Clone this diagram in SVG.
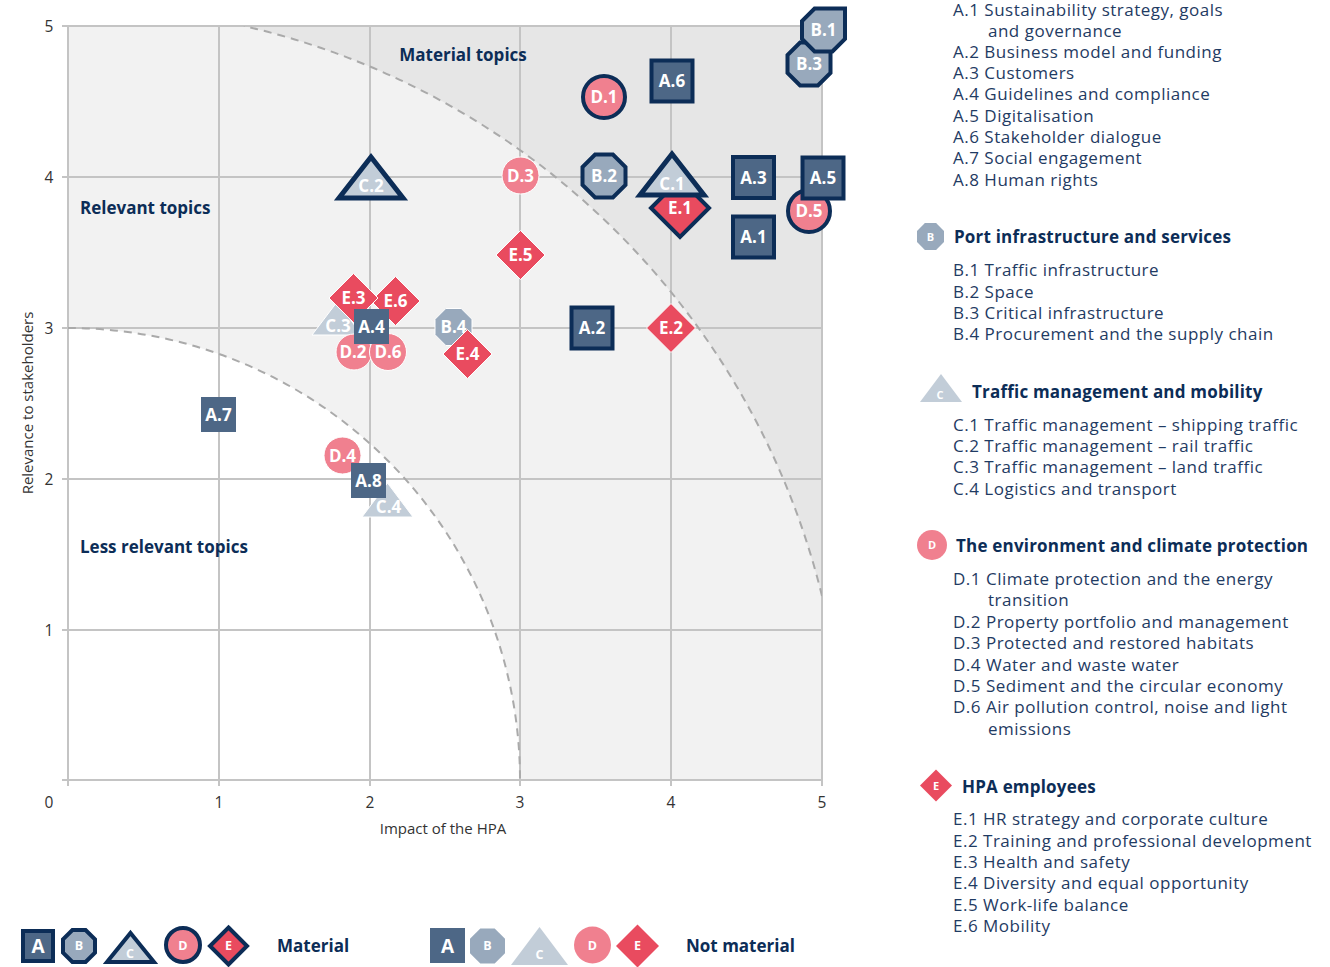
<svg xmlns="http://www.w3.org/2000/svg" width="1330" height="967" viewBox="0 0 1330 967">
<style>
.grid{stroke:#c4c4c4;stroke-width:2;fill:none}
.arc{stroke:#aaaaaa;stroke-width:2;stroke-dasharray:8 6;fill:none}
.tick{font-family:"Open Sans","Noto Sans",sans-serif;font-size:15.5px;fill:#333;text-anchor:middle}
.axis{font-family:"Open Sans","Noto Sans",sans-serif;font-size:15px;fill:#333;text-anchor:middle}
.zone{font-family:"Open Sans","Noto Sans",sans-serif;font-size:17px;font-weight:bold;fill:#0c2d57}
.A{fill:#4d6786}.B{fill:#98a9bc}.C{fill:#c2cdd8}.D{fill:#f0808f}.E{fill:#e94b5f}
.mat{stroke:#0c2d57;stroke-width:4;stroke-linejoin:miter}
.nm{stroke:#ffffff;stroke-width:1}
.lbl{font-family:"Open Sans","Noto Sans",sans-serif;font-size:17px;font-weight:bold;fill:#ffffff;text-anchor:middle}
.lg{font-family:"Open Sans","Noto Sans",sans-serif;font-size:12.5px;font-weight:bold;fill:#ffffff;text-anchor:middle}
.head{font-family:"Open Sans","Noto Sans",sans-serif;font-size:17px;font-weight:bold;fill:#0c2d57;letter-spacing:0.2px}
.item{font-family:"Open Sans","Noto Sans",sans-serif;font-size:17px;fill:#1f3b63;letter-spacing:0.5px}
</style>
<defs>
<clipPath id="plot"><rect x="68" y="26" width="754" height="754"/></clipPath>
</defs>

<g id="background">
<rect x="68" y="26" width="754" height="754" fill="#f2f2f2"/>
<path d="M 244,26 L 822,26 L 822,596 A 773 773 0 0 0 244,26 Z" fill="#e6e6e6" clip-path="url(#plot)"/>
<path d="M 68,780 L 68,328 A 452 452 0 0 1 520,780 Z" fill="#ffffff"/>
</g>

<g id="grid">
<line class="grid" x1="68" y1="26" x2="68" y2="786"/>
<line class="grid" x1="219" y1="26" x2="219" y2="786"/>
<line class="grid" x1="370" y1="26" x2="370" y2="786"/>
<line class="grid" x1="520" y1="26" x2="520" y2="786"/>
<line class="grid" x1="671" y1="26" x2="671" y2="786"/>
<line class="grid" x1="822" y1="26" x2="822" y2="786"/>
<line class="grid" x1="62" y1="26" x2="822" y2="26"/>
<line class="grid" x1="62" y1="177" x2="822" y2="177"/>
<line class="grid" x1="62" y1="328" x2="822" y2="328"/>
<line class="grid" x1="62" y1="479" x2="822" y2="479"/>
<line class="grid" x1="62" y1="630" x2="822" y2="630"/>
<line class="grid" x1="62" y1="780" x2="822" y2="780"/>
</g>

<g id="arcs" clip-path="url(#plot)">
<path class="arc" d="M 68,328 A 452 452 0 0 1 520,780"/>
<path class="arc" d="M 822,596 A 773 773 0 0 0 244,26"/>
</g>

<g id="axes">
<text class="tick" x="49" y="32">5</text>
<text class="tick" x="49" y="183">4</text>
<text class="tick" x="49" y="334">3</text>
<text class="tick" x="49" y="485">2</text>
<text class="tick" x="49" y="636">1</text>
<text class="tick" x="49" y="808">0</text>
<text class="tick" x="219" y="808">1</text>
<text class="tick" x="370" y="808">2</text>
<text class="tick" x="520" y="808">3</text>
<text class="tick" x="671" y="808">4</text>
<text class="tick" x="822" y="808">5</text>
<text class="axis" x="443" y="834">Impact of the HPA</text>
<text class="axis" transform="translate(33,403) rotate(-90)">Relevance to stakeholders</text>
</g>

<g id="zones">
<text class="zone" x="463" y="61" text-anchor="middle">Material topics</text>
<text class="zone" x="80" y="214">Relevant topics</text>
<text class="zone" x="80" y="553">Less relevant topics</text>
</g>

<g id="m-B3"><polygon class="B mat" points="830.5,42.5 830.5,72.9 817.9,85.5 800.1,85.5 787.5,72.9 787.5,55.1 800.1,42.5 817.9,42.5"/><text class="lbl" x="809" y="70">B.3</text></g>
<g id="m-B1"><polygon class="B mat" points="845,8.5 845,38.9 832.4,51.5 814.6,51.5 802,38.9 802,21.1 814.6,8.5 832.4,8.5"/><text class="lbl" x="823.5" y="36">B.1</text></g>
<g id="m-D1"><circle class="D mat" cx="604" cy="97" r="21"/><text class="lbl" x="604" y="103">D.1</text></g>
<g id="m-A6"><rect class="A mat" x="651.5" y="60.5" width="41" height="41"/><text class="lbl" x="672" y="87">A.6</text></g>
<g id="m-B2"><polygon class="B mat" points="625.5,167.1 625.5,184.9 612.9,197.5 595.1,197.5 582.5,184.9 582.5,167.1 595.1,154.5 612.9,154.5"/><text class="lbl" x="604" y="182">B.2</text></g>
<g id="m-D3"><circle class="D nm" cx="520.5" cy="175.5" r="18.5"/><text class="lbl" x="520.5" y="181.5">D.3</text></g>
<g id="m-C2"><polygon class="C mat" style="stroke-width:5" points="371,157 403,198 339,198"/><text class="lbl" x="371" y="192">C.2</text></g>
<g id="m-E1"><polygon class="E mat" points="680,179 709,208 680,237 651,208"/><text class="lbl" x="680" y="214">E.1</text></g>
<g id="m-C1"><polygon class="C mat" style="stroke-width:5" points="672,154 704,195 640,195"/><text class="lbl" x="672" y="190">C.1</text></g>
<g id="m-A3"><rect class="A mat" x="733" y="157" width="41" height="41"/><text class="lbl" x="753.5" y="183.5">A.3</text></g>
<g id="m-D5"><circle class="D mat" cx="809" cy="211" r="21"/><text class="lbl" x="809" y="217">D.5</text></g>
<g id="m-A5"><rect class="A mat" x="802.5" y="157.5" width="41" height="41"/><text class="lbl" x="823" y="184">A.5</text></g>
<g id="m-A1"><rect class="A mat" x="733" y="216.5" width="41" height="41"/><text class="lbl" x="753.5" y="243">A.1</text></g>
<g id="m-E5"><polygon class="E nm" points="520.5,230.5 545,255 520.5,279.5 496,255"/><text class="lbl" x="520.5" y="261">E.5</text></g>
<g id="m-A2"><rect class="A mat" x="571.5" y="307.5" width="41" height="41"/><text class="lbl" x="592" y="334">A.2</text></g>
<g id="m-E2"><polygon class="E nm" points="671,303.5 695.5,328 671,352.5 646.5,328"/><text class="lbl" x="671" y="334">E.2</text></g>
<g id="m-C3"><polygon class="C nm" points="337,302 362,335 312,335"/><text class="lbl" x="338" y="332">C.3</text></g>
<g id="m-E6"><polygon class="E nm" points="395.5,276.5 420,301 395.5,325.5 371,301"/><text class="lbl" x="395.5" y="307">E.6</text></g>
<g id="m-E3"><polygon class="E nm" points="353.5,273.5 378,298 353.5,322.5 329,298"/><text class="lbl" x="353.5" y="304">E.3</text></g>
<g id="m-D2"><circle class="D nm" cx="354" cy="352" r="18"/><text class="lbl" x="353" y="358">D.2</text></g>
<g id="m-D6"><circle class="D nm" cx="388" cy="352" r="18.5"/><text class="lbl" x="388" y="358">D.6</text></g>
<g id="m-A4"><rect class="A" x="354" y="309" width="35" height="35"/><text class="lbl" x="371.5" y="332.5">A.4</text></g>
<g id="m-B4"><polygon class="B nm" points="472,319.3 472,334.7 461.2,345.5 445.8,345.5 435,334.7 435,319.3 445.8,308.5 461.2,308.5"/><text class="lbl" x="453.5" y="333">B.4</text></g>
<g id="m-E4"><polygon class="E nm" points="467.5,329.5 492,354 467.5,378.5 443,354"/><text class="lbl" x="467.5" y="360">E.4</text></g>
<g id="m-A7"><rect class="A" x="201" y="397" width="35" height="35"/><text class="lbl" x="218.5" y="420.5">A.7</text></g>
<g id="m-D4"><circle class="D nm" cx="342.5" cy="455.5" r="18.5"/><text class="lbl" x="342.5" y="461.5">D.4</text></g>
<g id="m-C4"><polygon class="C nm" points="387.5,483 413,517 362,517"/><text class="lbl" x="388.5" y="513">C.4</text></g>
<g id="m-A8"><rect class="A" x="351" y="463" width="35" height="35"/><text class="lbl" x="368.5" y="486.5">A.8</text></g>

<g id="legend-material">
<rect class="A mat" x="23" y="931" width="30" height="30"/><text class="lbl" x="38" y="953" style="font-size:19px">A</text>
<polygon class="B mat" points="95,939.4 95,952.6 85.6,962 72.4,962 63,952.6 63,939.4 72.4,930 85.6,930"/><text class="lg" x="79" y="950">B</text>
<polygon class="C mat" points="130.5,933 154,962 107,962"/><text class="lg" x="130" y="958">C</text>
<circle class="D mat" cx="183" cy="945" r="17"/><text class="lg" x="183" y="950">D</text>
<polygon class="E mat" points="228.5,927.5 247,946 228.5,964.5 210,946"/><text class="lg" x="228.5" y="950">E</text>
<text class="zone" x="277" y="952">Material</text>
</g>

<g id="legend-not-material">
<rect class="A" x="430" y="928" width="35" height="35"/><text class="lbl" x="447.5" y="953" style="font-size:19px">A</text>
<polygon class="B" points="505,938.8 505,953.2 494.7,963.5 480.3,963.5 470,953.2 470,938.8 480.3,928.5 494.7,928.5"/><text class="lg" x="487.5" y="950">B</text>
<polygon class="C" points="539.5,927 568,965 511,965"/><text class="lg" x="539.5" y="959">C</text>
<circle class="D" cx="592.5" cy="945" r="18.5"/><text class="lg" x="592.5" y="950">D</text>
<polygon class="E" points="637.5,924.5 659,946 637.5,967.5 616,946"/><text class="lg" x="637.5" y="950">E</text>
<text class="zone" x="686" y="952">Not material</text>
</g>

<g id="legend-A">
<text class="item" x="953" y="16">A.1 Sustainability strategy, goals</text>
<text class="item" x="988" y="37">and governance</text>
<text class="item" x="953" y="58">A.2 Business model and funding</text>
<text class="item" x="953" y="79">A.3 Customers</text>
<text class="item" x="953" y="100">A.4 Guidelines and compliance</text>
<text class="item" x="953" y="122">A.5 Digitalisation</text>
<text class="item" x="953" y="143">A.6 Stakeholder dialogue</text>
<text class="item" x="953" y="164">A.7 Social engagement</text>
<text class="item" x="953" y="186">A.8 Human rights</text>
</g>

<g id="legend-B">
<polygon class="B" points="944,230.9 944,242.1 936.1,250 924.9,250 917,242.1 917,230.9 924.9,223 936.1,223"/><text class="lg" x="930.5" y="241" style="font-size:11px">B</text>
<text class="head" x="954" y="243">Port infrastructure and services</text>
<text class="item" x="953" y="276">B.1 Traffic infrastructure</text>
<text class="item" x="953" y="298">B.2 Space</text>
<text class="item" x="953" y="319">B.3 Critical infrastructure</text>
<text class="item" x="953" y="340">B.4 Procurement and the supply chain</text>
</g>

<g id="legend-C">
<polygon class="C" points="941,374 962,402 920,402"/><text class="lg" x="940" y="399" style="font-size:11px">C</text>
<text class="head" x="972" y="398">Traffic management and mobility</text>
<text class="item" x="953" y="431">C.1 Traffic management – shipping traffic</text>
<text class="item" x="953" y="452">C.2 Traffic management – rail traffic</text>
<text class="item" x="953" y="473">C.3 Traffic management – land traffic</text>
<text class="item" x="953" y="495">C.4 Logistics and transport</text>
</g>

<g id="legend-D">
<circle class="D" cx="932" cy="545" r="15"/><text class="lg" x="932" y="549" style="font-size:11px">D</text>
<text class="head" x="956" y="552">The environment and climate protection</text>
<text class="item" x="953" y="585">D.1 Climate protection and the energy</text>
<text class="item" x="988" y="606">transition</text>
<text class="item" x="953" y="628">D.2 Property portfolio and management</text>
<text class="item" x="953" y="649">D.3 Protected and restored habitats</text>
<text class="item" x="953" y="671">D.4 Water and waste water</text>
<text class="item" x="953" y="692">D.5 Sediment and the circular economy</text>
<text class="item" x="953" y="713">D.6 Air pollution control, noise and light</text>
<text class="item" x="988" y="735">emissions</text>
</g>

<g id="legend-E">
<polygon class="E" points="936,769.5 952,785.5 936,801.5 920,785.5"/><text class="lg" x="936" y="789.5" style="font-size:11px">E</text>
<text class="head" x="962" y="793">HPA employees</text>
<text class="item" x="953" y="825">E.1 HR strategy and corporate culture</text>
<text class="item" x="953" y="847">E.2 Training and professional development</text>
<text class="item" x="953" y="868">E.3 Health and safety</text>
<text class="item" x="953" y="889">E.4 Diversity and equal opportunity</text>
<text class="item" x="953" y="911">E.5 Work-life balance</text>
<text class="item" x="953" y="932">E.6 Mobility</text>
</g>
</svg>
